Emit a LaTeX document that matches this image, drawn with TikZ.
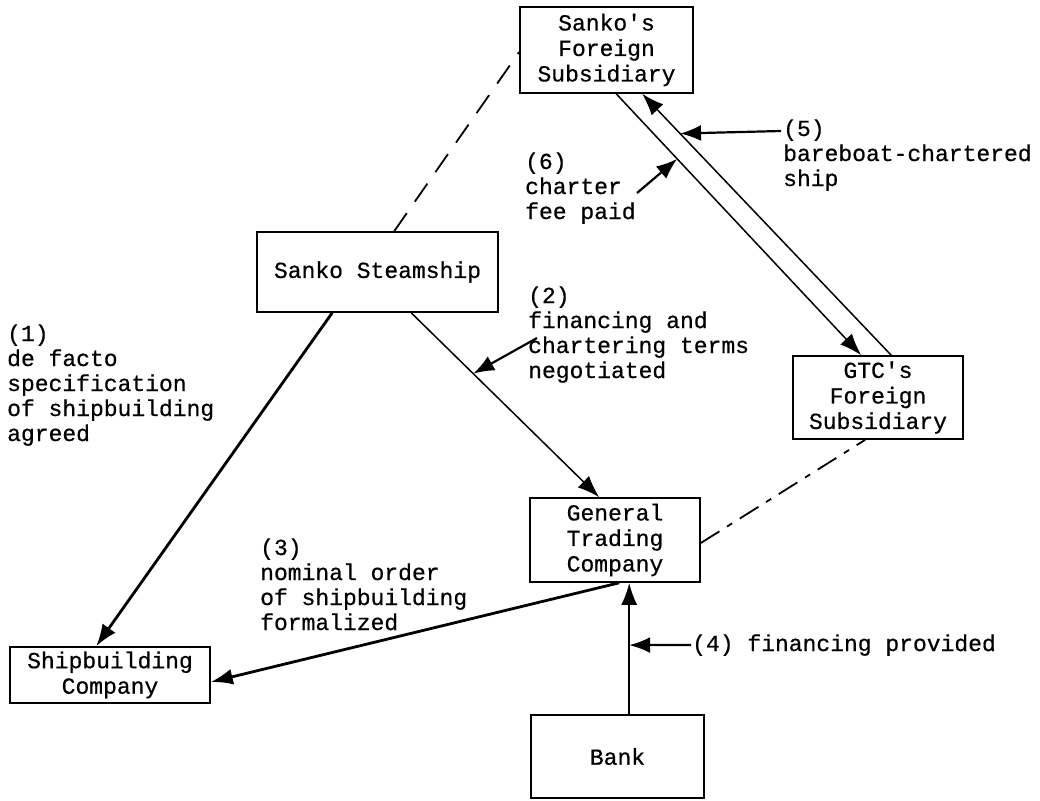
\documentclass[tikz,border=0pt]{standalone}
\usepackage{fontspec}
\newfontfamily\dgtt{Liberation Mono}[FakeBold=0.6]
\usetikzlibrary{arrows.meta}
\newcommand\dgboxfont{\dgtt\fontsize{23}{25.5}\selectfont}
\newcommand\dglblfont{\dgtt\fontsize{23}{25}\selectfont}
\begin{document}
\begin{tikzpicture}[x=1pt,y=-1pt,
  box/.style={draw, line width=1.6pt, inner sep=0pt, align=center, font=\dgboxfont},
  lbl/.style={anchor=base west, inner sep=0pt, align=left, font=\dglblfont},
  thinln/.style={line width=1.5pt},
  medln/.style={line width=2pt},
  boldln/.style={line width=2.8pt},
  tip/.style={-{Latex[length=22pt,width=16pt]}},
  ptr/.style={line width=2.2pt, -{Latex[length=21pt,width=16pt]}},
  dashln/.style={line width=1.8pt, dash pattern=on 22pt off 14pt},
  dashdotln/.style={line width=1.8pt, dash pattern=on 22pt off 9pt on 6pt off 9pt}]
\fill[white] (0,0) rectangle (1040,800);
\useasboundingbox (0,0) rectangle (1040,800);

% boxes
\node[box, minimum width=173pt, minimum height=86pt] (sfs) at (606.5,50) {Sanko's\\Foreign\\Subsidiary};
\node[box, minimum width=241pt, minimum height=80pt] (ss) at (377.5,272) {Sanko Steamship};
\node[box, minimum width=170pt, minimum height=83pt] (gfs) at (878,397.5) {GTC's\\Foreign\\Subsidiary};
\node[box, minimum width=170pt, minimum height=84pt] (gtc) at (615,540) {General\\Trading\\Company};
\node[box, minimum width=200pt, minimum height=56pt] (sb) at (110,675) {Shipbuilding\\Company};
\node[box, minimum width=173pt, minimum height=83pt] (bank) at (617.5,756.5) {Bank};

% connectors
\draw[boldln, tip] ([xshift=76pt]ss.south west) -- ([xshift=87pt]sb.north west);
\draw[thinln, tip] ([xshift=155pt]ss.south west) -- coordinate[pos=0.33] (m2) ([xshift=70pt]gtc.north west);
\draw[boldln, tip] ([xshift=90pt]gtc.south west) -- ([yshift=-7pt]sb.east);
\draw[medln, tip] ([xshift=99pt]bank.north west) -- coordinate[pos=0.526] (m4) ([xshift=100pt]gtc.south west);
\draw[dashln] ([xshift=138pt]ss.north west) -- ([yshift=-2pt]sfs.west);
\draw[dashdotln] ([yshift=-3pt]gtc.east) -- ([xshift=73pt]gfs.south west);
\draw[thinln, tip] ([xshift=97pt]sfs.south west) -- coordinate[pos=0.249] (m6) ([xshift=69pt]gfs.north west);
\draw[thinln, tip] ([xshift=99pt]gfs.north west) -- coordinate[pos=0.848] (m5) ([xshift=123pt]sfs.south west);

% labels (base anchor = last line baseline)
\node[lbl] (t1) at (7,441) {(1)\\de facto\\specification\\of shipbuilding\\agreed};
\node[lbl] (t2) at (528,378) {(2)\\financing and\\chartering terms\\negotiated};
\node[lbl] (t3) at (260,630) {(3)\\nominal order\\of shipbuilding\\formalized};
\node[lbl] (t4) at (692,651) {(4) financing provided};
\node[lbl] (t5) at (783,186) {(5)\\bareboat-chartered\\ship};
\node[lbl] (t6) at (525,219) {(6)\\charter\\fee paid};

% label pointers
\coordinate (p2) at (537,338);
\coordinate (p4) at (691,645);
\coordinate (p5) at (781,131);
\coordinate (p6) at (637,193);
\draw[ptr] (p2) -- (m2);
\draw[ptr] (p4) -- (m4);
\draw[ptr] (p5) -- (m5);
\draw[ptr] (p6) -- (m6);
\end{tikzpicture}
\end{document}
